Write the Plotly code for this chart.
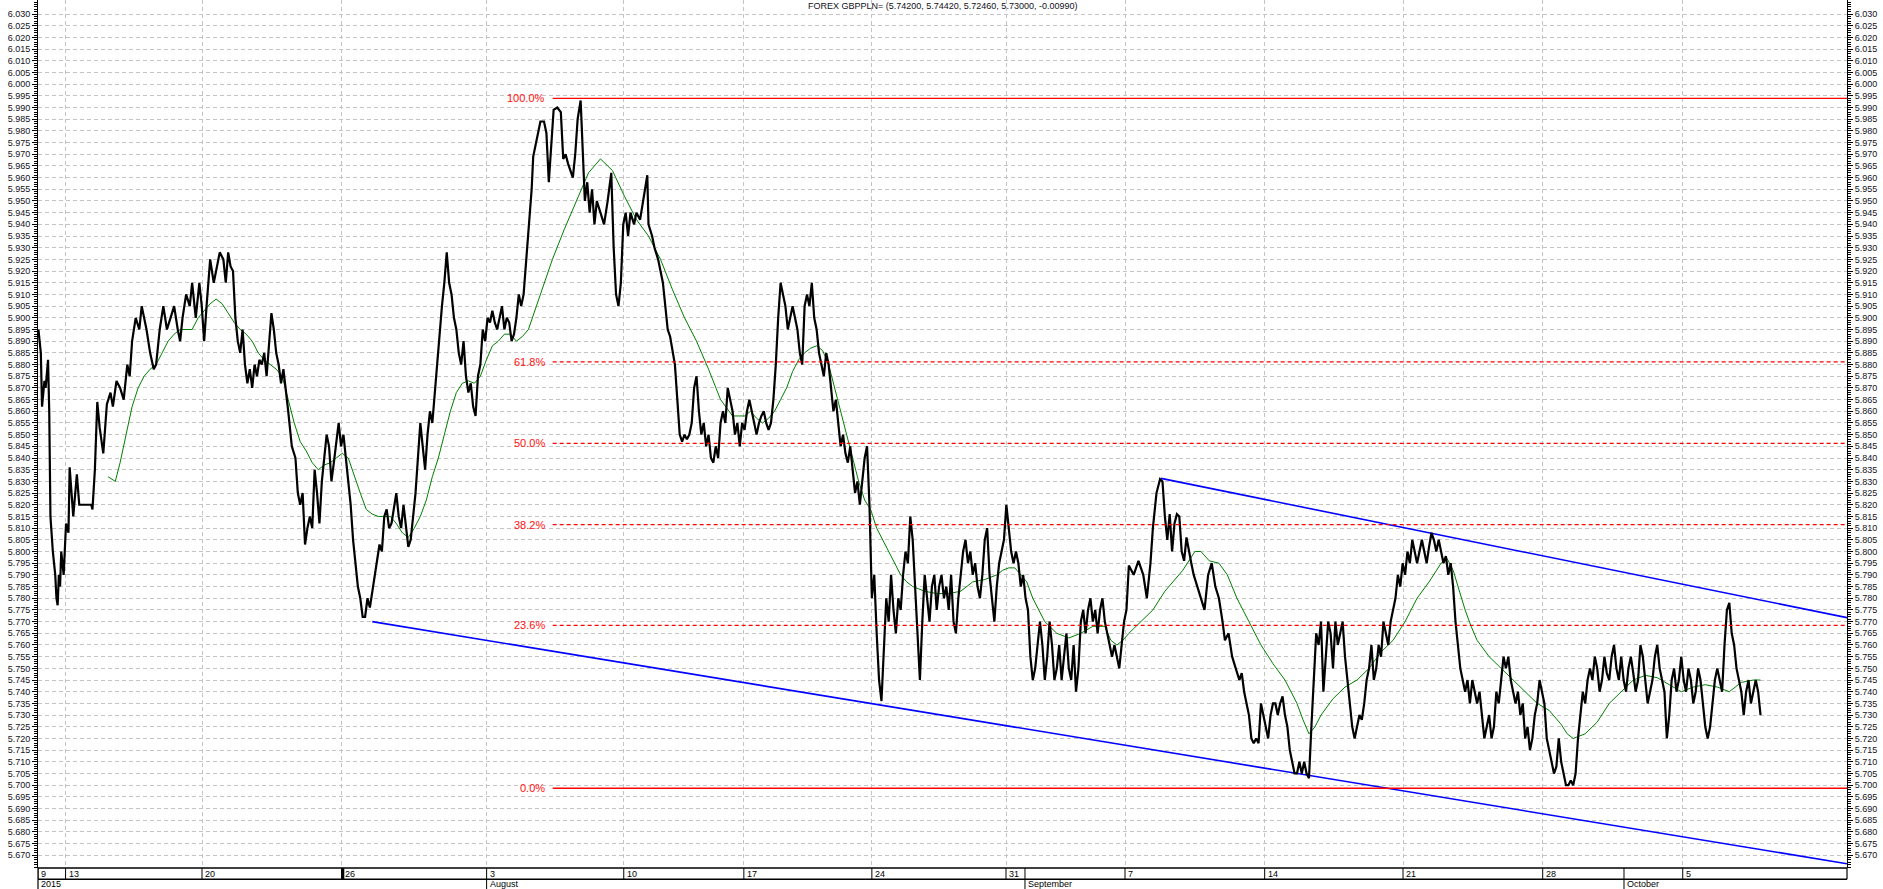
import plotly.graph_objects as go

# ---------------- data ----------------
TITLE = "FOREX GBPPLN= (5.74200, 5.74420, 5.72460, 5.73000, -0.00990)"

# time index (trading-time units) -> close price
price_points = [
    (32, 5.895), (34, 5.885), (35, 5.862), (37, 5.873), (38, 5.870), (40, 5.882), (41, 5.860), (42, 5.815),
    (44, 5.800), (46, 5.790), (47, 5.780), (48, 5.777), (49, 5.790), (50, 5.785), (51, 5.800), (53, 5.790),
    (55, 5.812), (57, 5.808), (58, 5.836), (61, 5.815), (64, 5.833), (66, 5.820), (70, 5.820), (76, 5.820),
    (77, 5.818), (79, 5.835), (81, 5.864), (83, 5.853), (86, 5.842), (89, 5.863), (92, 5.868), (94, 5.862),
    (97, 5.873), (100, 5.870), (103, 5.865), (106, 5.880), (108, 5.875), (110, 5.890), (113, 5.900), (116, 5.895),
    (118, 5.905), (120, 5.900), (122, 5.895), (125, 5.885), (128, 5.878), (130, 5.880), (133, 5.895), (136, 5.905),
    (139, 5.895), (142, 5.900), (145, 5.905), (148, 5.895), (150, 5.890), (152, 5.900), (155, 5.910), (158, 5.905),
    (160, 5.915), (163, 5.900), (166, 5.915), (168, 5.905), (170, 5.890), (172, 5.905), (175, 5.925), (178, 5.915),
    (180, 5.920), (183, 5.928), (186, 5.925), (188, 5.915), (190, 5.928), (192, 5.922), (194, 5.920), (196, 5.900),
    (198, 5.890), (200, 5.885), (202, 5.895), (204, 5.880), (206, 5.872), (208, 5.878), (210, 5.870), (212, 5.880),
    (214, 5.875), (216, 5.882), (218, 5.880), (220, 5.885), (222, 5.875), (224, 5.890), (226, 5.902), (228, 5.895),
    (230, 5.885), (232, 5.880), (234, 5.872), (236, 5.878), (238, 5.870), (240, 5.860), (243, 5.845), (246, 5.840),
    (248, 5.825), (250, 5.820), (252, 5.825), (254, 5.803), (256, 5.810), (258, 5.815), (260, 5.810), (262, 5.835),
    (264, 5.825), (266, 5.812), (268, 5.830), (270, 5.840), (272, 5.850), (274, 5.845), (276, 5.830), (278, 5.838),
    (280, 5.848), (282, 5.855), (284, 5.845), (286, 5.850), (288, 5.840), (290, 5.830), (292, 5.820), (294, 5.805),
    (296, 5.795), (298, 5.785), (300, 5.780), (302, 5.772), (304, 5.772), (306, 5.780), (308, 5.776), (310, 5.783),
    (312, 5.790), (314, 5.795), (316, 5.803), (318, 5.800), (320, 5.815), (322, 5.818), (324, 5.810), (326, 5.812),
    (328, 5.818), (330, 5.825), (332, 5.815), (334, 5.810), (336, 5.820), (338, 5.812), (340, 5.802), (342, 5.805),
    (344, 5.815), (346, 5.825), (348, 5.840), (350, 5.855), (352, 5.845), (354, 5.835), (356, 5.850), (358, 5.860),
    (360, 5.855), (362, 5.868), (364, 5.880), (366, 5.890), (368, 5.905), (370, 5.915), (372, 5.928), (374, 5.915),
    (376, 5.910), (378, 5.900), (380, 5.895), (382, 5.885), (384, 5.880), (386, 5.890), (388, 5.875), (390, 5.868),
    (392, 5.872), (394, 5.862), (396, 5.858), (398, 5.875), (400, 5.880), (402, 5.895), (404, 5.890), (406, 5.900),
    (408, 5.898), (410, 5.903), (412, 5.898), (414, 5.895), (416, 5.900), (418, 5.905), (420, 5.895), (422, 5.900),
    (424, 5.898), (426, 5.890), (428, 5.893), (430, 5.900), (432, 5.910), (434, 5.905), (436, 5.910), (439, 5.930),
    (442.7, 5.955), (444, 5.969), (447, 5.976), (450, 5.984), (453, 5.984), (455, 5.979), (457, 5.958), (459, 5.975),
    (461, 5.989), (464, 5.990), (467, 5.988), (469, 5.968), (471, 5.970), (473, 5.966), (475, 5.963), (477, 5.960),
    (479, 5.970), (481, 5.985), (483.5, 5.993), (485, 5.975), (487, 5.950), (489, 5.958), (491, 5.945), (493, 5.955),
    (495, 5.940), (497, 5.950), (500, 5.945), (503, 5.940), (506, 5.950), (509, 5.962), (511, 5.930), (513, 5.910),
    (515, 5.905), (517, 5.915), (519, 5.940), (521, 5.945), (523, 5.935), (525, 5.945), (528, 5.940), (530, 5.945),
    (533, 5.942), (535, 5.948), (537, 5.955), (539, 5.961), (540, 5.940), (543, 5.935), (545, 5.930), (548, 5.925),
    (550, 5.920), (552, 5.915), (554, 5.905), (556, 5.895), (558, 5.892), (560, 5.885), (562, 5.880), (564, 5.865),
    (566, 5.850), (568, 5.847), (570, 5.850), (572, 5.848), (574, 5.850), (576, 5.855), (578, 5.870), (580, 5.875),
    (582, 5.860), (584, 5.850), (586, 5.855), (588, 5.845), (590, 5.850), (592, 5.840), (594, 5.838), (596, 5.845),
    (598, 5.840), (600, 5.855), (602, 5.860), (604, 5.855), (606, 5.870), (608, 5.865), (610, 5.860), (612, 5.850),
    (614, 5.855), (616, 5.845), (618, 5.855), (620, 5.852), (622, 5.860), (624, 5.865), (626, 5.860), (628, 5.855),
    (630, 5.850), (632, 5.855), (634, 5.858), (636, 5.860), (638, 5.855), (640, 5.852), (642, 5.855), (644, 5.865),
    (646, 5.880), (648, 5.900), (650, 5.915), (652, 5.910), (654, 5.905), (656, 5.895), (658, 5.900), (660, 5.905),
    (662, 5.900), (664, 5.895), (666, 5.885), (668, 5.880), (670, 5.905), (672, 5.910), (674, 5.905), (676, 5.915),
    (678, 5.900), (680, 5.895), (682, 5.885), (684, 5.880), (686, 5.875), (688, 5.885), (690, 5.880), (692, 5.870),
    (694, 5.860), (696, 5.865), (698, 5.855), (700, 5.845), (702, 5.850), (704, 5.842), (706, 5.838), (708, 5.845),
    (710, 5.835), (712, 5.825), (714, 5.830), (716, 5.820), (718, 5.830), (720, 5.840), (722, 5.845), (724, 5.820),
    (726, 5.780), (728, 5.790), (730, 5.765), (732, 5.745), (734, 5.736), (736, 5.760), (738, 5.780), (740, 5.770),
    (742, 5.790), (744, 5.775), (746, 5.765), (748, 5.780), (750, 5.775), (752, 5.790), (754, 5.800), (756, 5.795),
    (758, 5.815), (760, 5.805), (762, 5.785), (764, 5.765), (766, 5.745), (768, 5.770), (770, 5.790), (772, 5.780),
    (774, 5.770), (776, 5.785), (778, 5.790), (780, 5.775), (782, 5.785), (784, 5.790), (786, 5.780), (788, 5.785),
    (790, 5.775), (792, 5.790), (794, 5.770), (796, 5.765), (798, 5.780), (800, 5.790), (802, 5.800), (804, 5.805),
    (806, 5.795), (808, 5.800), (810, 5.790), (812, 5.795), (814, 5.785), (816, 5.780), (818, 5.790), (820, 5.805),
    (822, 5.810), (824, 5.790), (826, 5.780), (828, 5.770), (830, 5.785), (832, 5.795), (834, 5.800), (836, 5.805),
    (838, 5.820), (840, 5.810), (842, 5.800), (844, 5.795), (846, 5.800), (848, 5.795), (850, 5.785), (852, 5.790),
    (854, 5.780), (856, 5.775), (858, 5.755), (860, 5.745), (862, 5.750), (864, 5.760), (866, 5.770), (868, 5.760),
    (870, 5.745), (872, 5.755), (874, 5.770), (876, 5.760), (878, 5.745), (880, 5.750), (882, 5.760), (884, 5.745),
    (886, 5.755), (888, 5.765), (890, 5.750), (892, 5.745), (894, 5.760), (896, 5.740), (898, 5.750), (900, 5.770),
    (902, 5.775), (904, 5.765), (906, 5.775), (908, 5.780), (910, 5.770), (912, 5.775), (914, 5.765), (916, 5.775),
    (918, 5.780), (920, 5.770), (922, 5.765), (924, 5.760), (926, 5.755), (928, 5.760), (930, 5.755), (932, 5.750),
    (934, 5.760), (936, 5.770), (938, 5.775), (940, 5.794), (944, 5.790), (948, 5.796), (952, 5.790), (955, 5.780),
    (958, 5.795), (960, 5.810), (963, 5.825), (966, 5.831), (968, 5.830), (970, 5.815), (972, 5.805), (974, 5.816),
    (976, 5.800), (978, 5.812), (980, 5.816), (982, 5.815), (984, 5.800), (986, 5.796), (988, 5.806), (990, 5.800),
    (992, 5.795), (994, 5.790), (997, 5.785), (1000, 5.780), (1003, 5.775), (1006, 5.790), (1009, 5.795), (1012, 5.785),
    (1015, 5.780), (1018, 5.770), (1020, 5.762), (1023, 5.765), (1026, 5.755), (1029, 5.750), (1032, 5.745), (1034, 5.748),
    (1036, 5.740), (1038, 5.735), (1040, 5.730), (1042, 5.720), (1044, 5.718), (1046, 5.720), (1048, 5.718), (1050, 5.735),
    (1052, 5.730), (1054, 5.725), (1056, 5.720), (1058, 5.730), (1060, 5.735), (1062, 5.735), (1064, 5.730), (1066, 5.735),
    (1068, 5.738), (1070, 5.730), (1072, 5.725), (1074, 5.715), (1076, 5.710), (1078, 5.705), (1080, 5.705), (1082, 5.710),
    (1084, 5.705), (1086, 5.710), (1088, 5.705), (1090, 5.703), (1092, 5.725), (1094, 5.745), (1096, 5.765), (1098, 5.760),
    (1100, 5.770), (1102, 5.740), (1104, 5.755), (1106, 5.770), (1108, 5.765), (1110, 5.750), (1112, 5.770), (1114, 5.760),
    (1116, 5.765), (1118, 5.770), (1120, 5.755), (1122, 5.745), (1124, 5.735), (1126, 5.725), (1128, 5.720), (1130, 5.725),
    (1132, 5.730), (1134, 5.728), (1136, 5.735), (1138, 5.745), (1140, 5.750), (1142, 5.760), (1144, 5.745), (1146, 5.750),
    (1148, 5.760), (1150, 5.755), (1152, 5.770), (1154, 5.765), (1156, 5.760), (1158, 5.770), (1160, 5.775), (1162, 5.780),
    (1164, 5.790), (1166, 5.785), (1168, 5.795), (1170, 5.790), (1172, 5.800), (1174, 5.795), (1176, 5.805), (1178, 5.800),
    (1180, 5.795), (1182, 5.800), (1184, 5.805), (1186, 5.800), (1188, 5.795), (1190, 5.802), (1192, 5.808), (1194, 5.805),
    (1196, 5.800), (1198, 5.805), (1200, 5.800), (1202, 5.795), (1204, 5.798), (1206, 5.790), (1208, 5.795), (1210, 5.785),
    (1212, 5.770), (1214, 5.760), (1216, 5.750), (1218, 5.745), (1220, 5.740), (1222, 5.745), (1224, 5.735), (1226, 5.745),
    (1228, 5.740), (1230, 5.735), (1232, 5.740), (1234, 5.730), (1236, 5.720), (1238, 5.725), (1240, 5.730), (1242, 5.720),
    (1244, 5.725), (1246, 5.740), (1248, 5.735), (1250, 5.745), (1252, 5.755), (1254, 5.750), (1256, 5.755), (1258, 5.745),
    (1260, 5.740), (1262, 5.735), (1264, 5.740), (1266, 5.730), (1268, 5.735), (1270, 5.720), (1272, 5.725), (1274, 5.715),
    (1276, 5.720), (1278, 5.730), (1280, 5.735), (1282, 5.745), (1284, 5.740), (1286, 5.735), (1288, 5.720), (1290, 5.715),
    (1292, 5.710), (1294, 5.705), (1296, 5.708), (1298, 5.720), (1300, 5.710), (1302, 5.705), (1304, 5.700), (1306, 5.700),
    (1308, 5.702), (1310, 5.700), (1312, 5.705), (1314, 5.720), (1316, 5.730), (1318, 5.740), (1320, 5.735), (1322, 5.745),
    (1324, 5.750), (1326, 5.745), (1328, 5.755), (1330, 5.750), (1332, 5.740), (1334, 5.745), (1336, 5.755), (1338, 5.748),
    (1340, 5.745), (1342, 5.755), (1344, 5.760), (1346, 5.750), (1348, 5.745), (1350, 5.755), (1352, 5.745), (1354, 5.740),
    (1356, 5.750), (1358, 5.755), (1360, 5.748), (1362, 5.740), (1364, 5.745), (1366, 5.760), (1368, 5.755), (1370, 5.745),
    (1372, 5.735), (1374, 5.740), (1376, 5.745), (1378, 5.755), (1380, 5.760), (1382, 5.750), (1384, 5.745), (1386, 5.740),
    (1388, 5.720), (1390, 5.730), (1392, 5.745), (1394, 5.750), (1396, 5.740), (1398, 5.745), (1400, 5.755), (1402, 5.745),
    (1404, 5.740), (1406, 5.750), (1408, 5.745), (1410, 5.735), (1412, 5.740), (1414, 5.750), (1416, 5.745), (1418, 5.735),
    (1420, 5.725), (1422, 5.720), (1424, 5.725), (1426, 5.735), (1428, 5.745), (1430, 5.750), (1432, 5.745), (1434, 5.740),
    (1436, 5.760), (1438, 5.775), (1440, 5.778), (1442, 5.765), (1444, 5.760), (1446, 5.750), (1448, 5.745), (1450, 5.740),
    (1452, 5.730), (1454, 5.740), (1456, 5.745), (1458, 5.735), (1460, 5.740), (1462, 5.745), (1464, 5.740), (1466, 5.730),
]

# moving average (green)
ma_points = [
    (90, 5.832), (96, 5.830), (100, 5.838), (105, 5.850), (110, 5.862), (115, 5.870), (120, 5.875), (125, 5.878),
    (130, 5.880), (135, 5.885), (140, 5.890), (145, 5.893), (150, 5.895), (155, 5.895), (160, 5.895), (165, 5.900),
    (170, 5.903), (175, 5.906), (180, 5.908), (185, 5.906), (190, 5.902), (195, 5.898), (200, 5.895), (205, 5.893),
    (210, 5.890), (215, 5.885), (220, 5.882), (225, 5.880), (230, 5.878), (235, 5.875), (240, 5.865), (245, 5.855),
    (250, 5.847), (255, 5.843), (260, 5.838), (265, 5.835), (270, 5.837), (275, 5.838), (280, 5.840), (285, 5.842),
    (290, 5.840), (295, 5.832), (300, 5.825), (305, 5.818), (310, 5.816), (315, 5.815), (320, 5.815), (325, 5.815),
    (330, 5.812), (335, 5.808), (340, 5.806), (345, 5.810), (350, 5.815), (355, 5.822), (360, 5.832), (365, 5.840),
    (370, 5.850), (375, 5.860), (380, 5.868), (385, 5.872), (390, 5.873), (395, 5.872), (400, 5.875), (405, 5.882),
    (410, 5.888), (415, 5.890), (420, 5.893), (425, 5.893), (430, 5.890), (435, 5.892), (440, 5.895), (450, 5.910),
    (460, 5.925), (470, 5.938), (480, 5.950), (490, 5.962), (500, 5.968), (510, 5.963), (520, 5.952), (530, 5.942),
    (540, 5.935), (550, 5.925), (560, 5.912), (570, 5.900), (580, 5.890), (590, 5.878), (600, 5.865), (610, 5.858),
    (620, 5.858), (625, 5.860), (630, 5.857), (635, 5.855), (640, 5.857), (645, 5.860), (650, 5.865), (655, 5.870),
    (660, 5.877), (665, 5.882), (670, 5.885), (675, 5.887), (680, 5.888), (685, 5.886), (690, 5.880), (695, 5.870),
    (700, 5.860), (705, 5.850), (710, 5.840), (715, 5.830), (720, 5.822), (725, 5.818), (730, 5.810), (735, 5.805),
    (740, 5.800), (745, 5.795), (750, 5.790), (755, 5.787), (760, 5.785), (765, 5.784), (770, 5.783), (780, 5.782),
    (790, 5.782), (800, 5.783), (810, 5.787), (820, 5.788), (830, 5.790), (835, 5.792), (840, 5.793), (845, 5.793),
    (850, 5.790), (855, 5.787), (860, 5.780), (865, 5.775), (870, 5.770), (880, 5.765), (890, 5.763), (900, 5.765),
    (910, 5.768), (920, 5.768), (925, 5.762), (930, 5.760), (935, 5.762), (940, 5.765), (950, 5.770), (960, 5.775),
    (970, 5.783), (980, 5.789), (985, 5.792), (995, 5.800), (1000, 5.800), (1007, 5.796), (1015, 5.795), (1022, 5.790),
    (1030, 5.780), (1040, 5.770), (1050, 5.760), (1060, 5.752), (1070, 5.745), (1080, 5.735), (1085, 5.728), (1090, 5.722),
    (1095, 5.725), (1100, 5.730), (1110, 5.737), (1120, 5.742), (1130, 5.745), (1140, 5.750), (1150, 5.757), (1160, 5.762),
    (1170, 5.770), (1180, 5.780), (1190, 5.787), (1200, 5.795), (1205, 5.797), (1210, 5.792), (1215, 5.783), (1220, 5.775),
    (1225, 5.768), (1230, 5.762), (1240, 5.755), (1250, 5.750), (1260, 5.745), (1270, 5.740), (1280, 5.735), (1290, 5.732),
    (1300, 5.726), (1305, 5.722), (1310, 5.720), (1320, 5.722), (1330, 5.727), (1340, 5.735), (1350, 5.740), (1360, 5.745),
    (1370, 5.747), (1380, 5.746), (1390, 5.743), (1400, 5.740), (1410, 5.742), (1420, 5.743), (1430, 5.742), (1440, 5.740),
    (1450, 5.744), (1460, 5.745), (1466, 5.745),
]

# Fibonacci retracement
fib_low, fib_high = 5.6987, 5.9939
fib_ratios = [0.0, 0.236, 0.382, 0.5, 0.618, 1.0]
fib_labels = ["0.0%", "23.6%", "38.2%", "50.0%", "61.8%", "100.0%"]
fib_start_t = 460.2

# trend channel
chan_upper_t = [966.8, 1538.0]
chan_upper_v = [5.8313, 5.7717]
chan_lower_t = [310.0, 1538.0]
chan_lower_v = [5.7700, 5.6664]

# time axis
X_MIN, X_MAX = 31.64, 1538.0
Y_MIN, Y_MAX = 5.66457, 6.03599
week_t = [31.64, 54.6, 168.2, 284.4, 405.2, 519.4, 619.4, 726.0, 837.7, 936.8, 1053.1, 1168.3, 1284.6, 1401.2]
week_labels = ["9", "13", "20", "26", "3", "10", "17", "24", "31", "7", "14", "21", "28", "5"]
month_t = [31.64, 405.2, 853.5, 1352.3]
month_labels = ["2015", "August", "September", "October"]
y_ticks = [round(5.670 + 0.005 * i, 3) for i in range(73)]

# ---------------- figure ----------------
W, H = 1883, 889
ML, MR, MT, MB = 38, 36, 0, 21
PH = H - MT - MB
FONT = "Liberation Sans, Arial, sans-serif"
TXT = "#111122"


def py(px):
    return -px / PH


fig = go.Figure()

fig.add_trace(go.Scatter(x=[p[0] for p in ma_points], y=[p[1] for p in ma_points], mode="lines",
                         line=dict(color="#008000", width=1), hoverinfo="skip", showlegend=False))
fig.add_trace(go.Scatter(x=chan_upper_t, y=chan_upper_v, mode="lines",
                         line=dict(color="#0000ff", width=1.6), hoverinfo="skip", showlegend=False))
fig.add_trace(go.Scatter(x=chan_lower_t, y=chan_lower_v, mode="lines",
                         line=dict(color="#0000ff", width=1.6), hoverinfo="skip", showlegend=False))
fig.add_trace(go.Scatter(x=[p[0] for p in price_points], y=[p[1] for p in price_points], mode="lines",
                         line=dict(color="#000000", width=2.2), showlegend=False))
fig.add_trace(go.Scatter(x=[X_MIN], y=[Y_MIN], yaxis="y2", mode="markers", marker=dict(opacity=0),
                         hoverinfo="skip", showlegend=False))

shapes = []
annotations = []

for r, lab in zip(fib_ratios, fib_labels):
    lvl = fib_low + r * (fib_high - fib_low)
    solid = r in (0.0, 1.0)
    shapes.append(dict(type="line", xref="x", yref="y", x0=fib_start_t, x1=X_MAX, y0=lvl, y1=lvl,
                       line=dict(color="#ff0000", width=1.3, dash="solid" if solid else "4px,3px"), layer="above"))
    annotations.append(dict(x=fib_start_t, y=lvl, xref="x", yref="y", text=lab, showarrow=False,
                            xanchor="right", yanchor="middle", xshift=-6,
                            font=dict(family=FONT, size=11, color="#ff1010")))

# bottom date band
row1 = py(11.3)
row2 = py(21)
shapes.append(dict(type="line", xref="paper", yref="paper", x0=0, x1=1, y0=0, y1=0,
                   line=dict(color="black", width=1.5)))
shapes.append(dict(type="line", xref="paper", yref="paper", x0=0, x1=1, y0=row1, y1=row1,
                   line=dict(color="black", width=1.5)))
shapes.append(dict(type="line", xref="paper", yref="paper", x0=0, x1=0, y0=row2, y1=0,
                   line=dict(color="black", width=1.2)))
shapes.append(dict(type="line", xref="paper", yref="paper", x0=1, x1=1, y0=row1, y1=0,
                   line=dict(color="black", width=1.2)))
for t in week_t + month_t[2:]:
    shapes.append(dict(type="line", xref="x", yref="paper", x0=t, x1=t, y0=row1, y1=0,
                       line=dict(color="black", width=1)))
for t in month_t[1:]:
    shapes.append(dict(type="line", xref="x", yref="paper", x0=t, x1=t, y0=row2, y1=row1,
                       line=dict(color="black", width=1)))
# cursor marker on the "26" divider
shapes.append(dict(type="rect", xref="x", yref="paper", x0=week_t[3], x1=week_t[3] + 2.3, y0=row1, y1=0,
                   line=dict(width=0), fillcolor="black"))

for t, lab in zip(week_t, week_labels):
    annotations.append(dict(x=t, y=(row1) / 2, xref="x", yref="paper", text=lab, showarrow=False,
                            xanchor="left", yanchor="middle", xshift=1,
                            font=dict(family=FONT, size=9, color="black")))
for t, lab in zip(month_t, month_labels):
    annotations.append(dict(x=t, y=(row1 + row2) / 2, xref="x", yref="paper", text=lab, showarrow=False,
                            xanchor="left", yanchor="middle", xshift=1,
                            font=dict(family=FONT, size=9, color="black")))

annotations.append(dict(x=0.5, y=1, xref="paper", yref="paper", text=TITLE, showarrow=False,
                        xanchor="center", yanchor="top", yshift=1,
                        font=dict(family=FONT, size=9, color=TXT)))

yax_common = dict(
    range=[Y_MIN, Y_MAX], tickmode="array", tickvals=y_ticks, ticktext=[f"{v:.3f}" for v in y_ticks],
    ticks="outside", ticklen=5, tickwidth=1, tickcolor="black",
    showline=True, linecolor="black", linewidth=1, zeroline=False,
    tickfont=dict(family=FONT, size=9, color=TXT),
    minor=dict(tickmode="linear", tick0=5.670, dtick=0.001, ticks="outside", ticklen=3,
               tickcolor="black", showgrid=False),
)

fig.update_layout(
    width=W, height=H,
    margin=dict(l=ML, r=MR, t=MT, b=MB, pad=0),
    paper_bgcolor="white", plot_bgcolor="white",
    showlegend=False,
    xaxis=dict(range=[X_MIN, X_MAX], tickmode="array", tickvals=week_t, showticklabels=False, ticks="",
               showgrid=True, gridcolor="#c4c4c4", gridwidth=1, griddash="4px,3px",
               zeroline=False, showline=False),
    yaxis=dict(**yax_common, side="left", showgrid=True, gridcolor="#c4c4c4", gridwidth=1,
               griddash="4px,3px"),
    yaxis2=dict(**yax_common, side="right", overlaying="y", anchor="x", showgrid=False),
    shapes=shapes,
    annotations=annotations,
    hovermode="closest",
)

fig.write_html("out.html")
